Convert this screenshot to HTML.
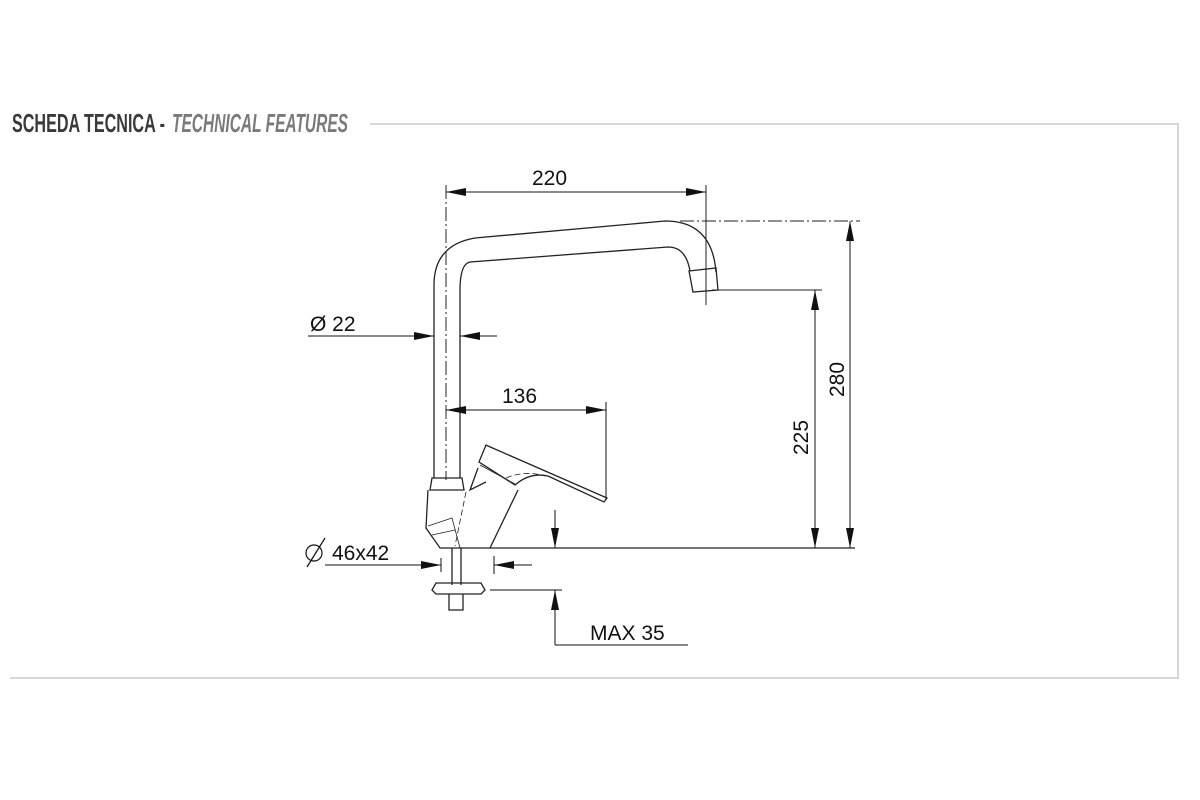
<!DOCTYPE html>
<html><head><meta charset="utf-8"><style>
html,body{margin:0;padding:0;background:#fff;}
svg{display:block}
</style></head><body>
<svg width="1200" height="800" viewBox="0 0 1200 800" xmlns="http://www.w3.org/2000/svg" font-family="Liberation Sans, sans-serif">
<defs>
<marker id="a" viewBox="0 0 10 6" refX="10" refY="3" markerWidth="20" markerHeight="8" markerUnits="userSpaceOnUse" orient="auto" preserveAspectRatio="none"><path d="M0,0L10,3L0,6z" fill="#111"/></marker>
</defs>
<!-- frame -->
<g stroke="#d4d8d8" stroke-width="2" fill="none">
<path d="M370,124H1178V678H10"/>
</g>
<!-- title -->
<text x="12" y="132" font-size="26" font-weight="bold" fill="#3a3a3a" textLength="153" lengthAdjust="spacingAndGlyphs">SCHEDA TECNICA -</text>
<text x="172" y="132" font-size="26" font-weight="bold" font-style="italic" fill="#7a7a7a" textLength="176" lengthAdjust="spacingAndGlyphs">TECHNICAL FEATURES</text>
<g stroke="#222" stroke-width="1.3" fill="none">
<!-- pipe outer -->
<path d="M434,478V285Q434,245 475,238L665,221Q712,221 716,272"/>
<path d="M460,478V290Q460,264 470,262L668,247Q686,247 690,271"/>
<!-- nozzle -->
<path d="M689,271L716,268L718,290L693,292Z"/>
<!-- centerlines -->
<path d="M446,185V480" stroke-dasharray="14,3,2,3" stroke-width="1"/>
<path d="M706,185V305" stroke-width="1"/>
<path d="M680,221H860" stroke-dasharray="14,3,2,3" stroke-width="1"/>
<!-- neck ring and body -->
<path d="M432,478L430,490H464L462,478Z"/>
<path d="M428,490L426,528L440,548H490L518,490"/>
<path d="M428,526L452,518L460,548" stroke-width="0.8"/>
<path d="M432,535L455,530" stroke-width="0.8"/>
<path d="M466,492L455,546" stroke-dasharray="6,3" stroke-width="0.8"/>
<path d="M478,468L470,490Q478,486 486,482"/>
<!-- lever -->
<path d="M486,445L479,462L515,485Q530,472 548,476L604,502L607,498L488,446Z"/>
<path d="M480,465L515,484" stroke-width="0.8"/>
<path d="M506,478Q525,470 545,476" stroke-dasharray="6,3" stroke-width="0.8"/>
<!-- base -->
<path d="M490,548H855"/>
<path d="M712,290H822" stroke-width="1"/>
<!-- stem & washer -->
<path d="M452,548V585M461,548V585"/>
<path d="M436,583H481L485,590L481,594H436L432,590Z"/>
<path d="M449,594V610H463V594"/>
</g>
<g stroke="#111" stroke-width="1">
<!-- 220 -->
<line x1="466" y1="192" x2="446" y2="192" marker-end="url(#a)"/>
<line x1="466" y1="192" x2="686" y2="192"/>
<line x1="686" y1="192" x2="706" y2="192" marker-end="url(#a)"/>
<!-- 22 -->
<line x1="308" y1="336" x2="434" y2="336" marker-end="url(#a)"/>
<line x1="497" y1="336" x2="460" y2="336" marker-end="url(#a)"/>
<!-- 136 -->
<line x1="606" y1="410" x2="446" y2="410" marker-end="url(#a)"/>
<line x1="446" y1="410" x2="606" y2="410" marker-end="url(#a)"/>
<line x1="606" y1="402" x2="606" y2="500"/>
<!-- 225 -->
<line x1="815" y1="548" x2="815" y2="290" marker-end="url(#a)"/>
<line x1="815" y1="290" x2="815" y2="548" marker-end="url(#a)"/>
<!-- 280 -->
<line x1="850" y1="548" x2="850" y2="221" marker-end="url(#a)"/>
<line x1="850" y1="221" x2="850" y2="548" marker-end="url(#a)"/>
<!-- 46x42 -->
<line x1="325" y1="565" x2="441" y2="565" marker-end="url(#a)"/>
<line x1="532" y1="565" x2="494" y2="565" marker-end="url(#a)"/>
<line x1="441" y1="558" x2="441" y2="572"/>
<line x1="494" y1="556" x2="494" y2="574"/>
<!-- MAX 35 -->
<line x1="555" y1="510" x2="555" y2="548" marker-end="url(#a)"/>
<line x1="555" y1="630" x2="555" y2="590" marker-end="url(#a)"/>
<line x1="555" y1="590" x2="555" y2="645"/>
<line x1="490" y1="590" x2="562" y2="590"/>
<line x1="555" y1="645" x2="688" y2="645"/>
</g>
<g fill="#111" font-size="21">
<text x="532" y="185">220</text>
<text x="310" y="331">Ø 22</text>
<text x="502" y="403">136</text>
<text transform="translate(808,455) rotate(-90)">225</text>
<text transform="translate(844,397) rotate(-90)">280</text>
<text x="332" y="560">46x42</text>
<text x="590" y="640">MAX 35</text>
</g>
<circle cx="314" cy="553" r="8" fill="none" stroke="#111" stroke-width="1.2"/>
<line x1="307" y1="567" x2="325" y2="538" stroke="#111" stroke-width="1.2"/>
</svg>
</body></html>
